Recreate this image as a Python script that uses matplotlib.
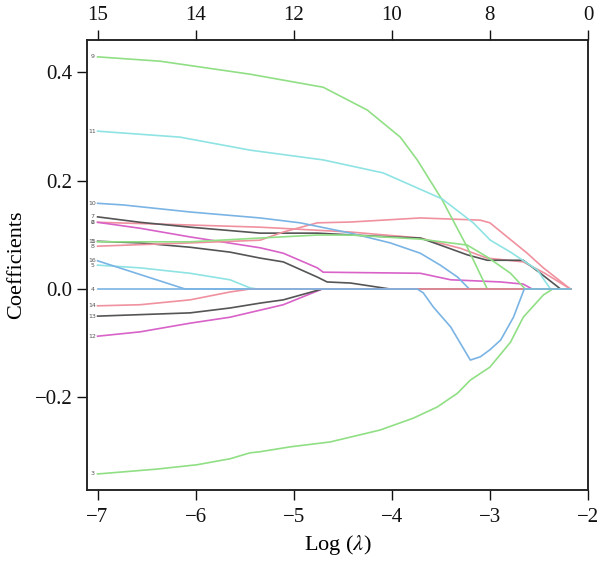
import matplotlib
matplotlib.use("Agg")
import matplotlib.pyplot as plt

plt.rcParams['font.family'] = ['Liberation Serif', 'DejaVu Serif']
plt.rcParams['mathtext.fontset'] = 'stix'

LAM_END = -2.18

# coefficient paths: (log lambda, coefficient)
v1_x = [-7, -6.567, -6.057, -5.65, -5.343, -5.107, -4.76, -4.66, -4.42, -4.09, -4.016]
v1_y = [0.088, 0.085, 0.077, 0.068, 0.057, 0.050, 0.022, 0.013, 0.011, 0.002, 0.0]
v2_x = [-7, -6.057, -5.343, -4.42, -3.71, -3.3, -3.03, -2.66, -2.44, -2.18]
v2_y = [0.123, 0.118, 0.114, 0.105, 0.094, 0.075, 0.057, 0.050, 0.029, 0.0]
v3_x = [-7, -6.394, -5.986, -5.65, -5.445, -5.343, -5.037, -4.63, -4.12, -3.78, -3.537,
        -3.33, -3.20, -3.0, -2.79, -2.66, -2.455, -2.36]
v3_y = [-0.341, -0.332, -0.324, -0.313, -0.302, -0.300, -0.291, -0.282, -0.260, -0.238,
        -0.2175, -0.192, -0.168, -0.144, -0.098, -0.052, -0.011, 0.0]
v4_x = [-7, -2.18]
v4_y = [0.0, 0.0]
v5_x = [-7, -6.567, -6.057, -5.65, -5.445, -5.37]
v5_y = [0.044, 0.039, 0.029, 0.017, 0.002, 0.0]
v6_x = [-7, -6.567, -6.057, -5.343, -5.107, -4.76, -4.70, -3.71, -3.40, -2.89, -2.66, -2.57]
v6_y = [0.123, 0.112, 0.096, 0.076, 0.066, 0.039, 0.031, 0.029, 0.017, 0.013, 0.009, 0.0]
v7_x = [-7, -6.567, -6.057, -5.343, -4.76, -4.016, -3.71, -3.506, -3.231, -3.027, -2.66,
        -2.485, -2.28]
v7_y = [0.133, 0.123, 0.114, 0.103, 0.103, 0.096, 0.094, 0.081, 0.063, 0.053, 0.053,
        0.029, 0.0]
v8_x = [-7, -6.057, -5.343, -5.107, -4.76, -4.42, -3.71, -3.10, -3.0, -2.62, -2.455, -2.18]
v8_y = [0.079, 0.085, 0.090, 0.105, 0.122, 0.1235, 0.131, 0.127, 0.122, 0.066, 0.039, 0.0]
v9_x = [-7, -6.363, -5.445, -4.70, -4.251, -3.914, -3.741, -3.486, -3.231, -3.027]
v9_y = [0.428, 0.420, 0.396, 0.372, 0.330, 0.280, 0.238, 0.164, 0.077, 0.0]
v10_x = [-7, -6.74, -6.057, -5.343, -4.935, -4.42, -4.016, -3.71, -3.506, -3.33, -3.21]
v10_y = [0.158, 0.155, 0.142, 0.131, 0.122, 0.103, 0.085, 0.066, 0.044, 0.022, 0.0]
v11_x = [-7, -6.16, -5.445, -4.70, -4.088, -3.486, -3.17, -2.996, -2.79, -2.516, -2.383]
v11_y = [0.291, 0.280, 0.256, 0.238, 0.214, 0.166, 0.122, 0.090, 0.068, 0.035, 0.0]
v12_x = [-7, -6.567, -6.057, -5.65, -5.343, -5.107, -4.71]
v12_y = [-0.087, -0.079, -0.063, -0.052, -0.039, -0.029, 0.0]
v13_x = [-7, -6.057, -5.65, -5.343, -5.107, -4.71]
v13_y = [-0.050, -0.044, -0.035, -0.026, -0.020, 0.0]
v14_x = [-7, -6.567, -6.057, -5.65, -5.445]
v14_y = [-0.031, -0.029, -0.020, -0.0055, 0.0]
v15_x = [-7, -6.057, -5.343, -4.76, -4.42, -3.71, -3.231, -3.027, -2.79, -2.64]
v15_y = [0.087, 0.087, 0.094, 0.0995, 0.0995, 0.092, 0.081, 0.059, 0.029, 0.0]
v16_x = [-7, -6.108, -3.741, -3.68, -3.578, -3.40, -3.20, -3.098, -3.0, -2.89, -2.76, -2.65]
v16_y = [0.052, 0.0, 0.0, -0.007, -0.033, -0.070, -0.131, -0.125, -0.112, -0.094, -0.052, 0.0]

series_x = [v1_x, v2_x, v3_x, v4_x, v5_x, v6_x, v7_x, v8_x, v9_x, v10_x, v11_x, v12_x,
            v13_x, v14_x, v15_x, v16_x]
series_y = [v1_y, v2_y, v3_y, v4_y, v5_y, v6_y, v7_y, v8_y, v9_y, v10_y, v11_y, v12_y,
            v13_y, v14_y, v15_y, v16_y]
labels = [str(i) for i in range(1, 17)]

palette = ['#555555', '#f0919f', '#90df85', '#7ab4e4', '#8fe3e3', '#d862c8']

top_ticks = [-7, -6, -5, -4, -3, -2]
top_labels = ['15', '14', '12', '10', '8', '0']
x_ticks = [-7, -6, -5, -4, -3, -2]
y_ticks = [-0.2, 0.0, 0.2, 0.4]

fig = plt.figure(figsize=(6.0, 5.72), dpi=100)
ax = fig.add_axes([0.145, 0.1434, 0.835, 0.7866])

for i, (xs, ys) in enumerate(zip(series_x, series_y)):
    xs = list(xs)
    ys = list(ys)
    if xs[-1] < LAM_END:
        xs.append(LAM_END)
        ys.append(0.0)
    ax.plot(xs, ys, color=palette[i % 6], lw=1.2, solid_joinstyle='round')
    ax.text(-7.055, ys[0], labels[i], fontsize=4.5, color='#555555',
            ha='center', va='center', family='DejaVu Sans')

ax.set_xlim(-7.108, -2.0)
ax.set_ylim(-0.3705, 0.459)
ax.set_xticks(x_ticks)
ax.set_xticklabels(['\u2212' + str(abs(t)) for t in x_ticks])
ax.set_yticks(y_ticks)
ax.set_yticklabels(['\u22120.2', '0.0', '0.2', '0.4'])
ax.tick_params(direction='out', length=7, width=1.0, labelsize=15, colors='#111111')
ax.tick_params(axis='x', pad=6)

top = ax.twiny()
top.set_xlim(ax.get_xlim())
top.set_xticks(top_ticks)
top.set_xticklabels(top_labels)
top.tick_params(direction='out', length=7, width=1.0, labelsize=15, colors='#111111', pad=4)

for a in (ax, top):
    for s in a.spines.values():
        s.set_linewidth(1.1)
        s.set_color('#222222')

ax.set_xlabel('Log ($\\lambda$)', fontsize=16, labelpad=4)
ax.set_ylabel('Coefficients', fontsize=16, labelpad=6)

fig.savefig('out.png', dpi=100)
